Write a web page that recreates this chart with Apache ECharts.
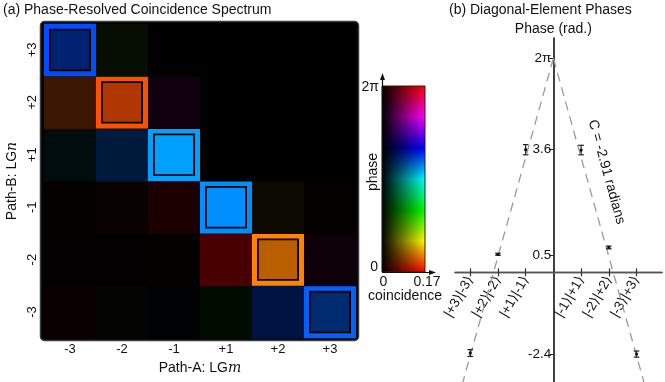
<!DOCTYPE html>
<html><head><meta charset="utf-8">
<script src="https://cdn.jsdelivr.net/npm/echarts@6/dist/echarts.min.js"></script>
<style>html,body{margin:0;padding:0;background:#fff}#c{width:665px;height:382px}</style>
</head><body><div id="c"></div>
<script>
// ---- data ----
const modesA = ['-3','-2','-1','+1','+2','+3'];   // Path-A: LGm (columns)
const modesB = ['-3','-2','-1','+1','+2','+3'];   // Path-B: LGn (rows, bottom to top)
// coincidence magnitude, rows = Path-B (-3..+3), columns = Path-A (-3..+3)
const coincidence = [
  [0.0067, 0.0027, 0.0030, 0.0080, 0.0450, 0.0750],
  [0.0010, 0.0012, 0.0020, 0.0480, 0.1230, 0.0093],
  [0.0027, 0.0053, 0.0173, 0.2000, 0.0080, 0.0020],
  [0.0093, 0.0390, 0.2000, 0.0000, 0.0000, 0.0000],
  [0.0390, 0.1170, 0.0107, 0.0000, 0.0000, 0.0000],
  [0.0750, 0.0093, 0.0000, 0.0000, 0.0000, 0.0000]
];
// phase (rad), same layout
const phase = [
  [0.00, 1.00, 4.00, 2.10, 3.90, 3.79],
  [0.00, 0.00, 0.00, 0.02, 0.54, 5.69],
  [0.00, 0.35, 0.00, 3.60, 0.80, 0.00],
  [3.32, 3.72, 3.53, 0.00, 0.00, 0.00],
  [0.39, 0.33, 5.24, 0.00, 0.00, 0.00],
  [3.87, 1.75, 0.00, 0.00, 0.00, 0.00]
];
const coincidenceMax = 0.17;
const ketLabels = ['|+3⟩|-3⟩','|+2⟩|-2⟩','|+1⟩|-1⟩','|-1⟩|+1⟩','|-2⟩|+2⟩','|-3⟩|+3⟩'];
const ketPos = [-3, -2, -1, 1, 2, 3];
const diagPhase = [-2.37, 0.53, 3.60, 3.59, 0.73, -2.40];
const diagErr = [0.10, 0.03, 0.15, 0.14, 0.04, 0.09];
const phaseTicks = [2 * Math.PI, 3.6, 0.5, -2.4];
const fitLeft = [[0, 6.283], [-3.4, -3.611]];
const fitRight = [[0, 6.283], [3.4, -3.611]];

// ---- helpers ----
function hsv(ph, v) {
  const TWO = 2 * Math.PI;
  let h = (((ph % TWO) + TWO) % TWO) / TWO * 6;
  const i = Math.floor(h) % 6, f = h - Math.floor(h), q = 1 - f;
  let r, g, b;
  switch (i) {
    case 0: r = 1; g = f; b = 0; break;
    case 1: r = q; g = 1; b = 0; break;
    case 2: r = 0; g = 1; b = f; break;
    case 3: r = 0; g = q; b = 1; break;
    case 4: r = f; g = 0; b = 1; break;
    default: r = 1; g = 0; b = q;
  }
  return 'rgb(' + Math.round(r * v * 255) + ',' + Math.round(g * v * 255) + ',' + Math.round(b * v * 255) + ')';
}

const heatData = [];
for (let r = 0; r < modesB.length; r++) {
  for (let c = 0; c < modesA.length; c++) {
    heatData.push([c, r, coincidence[r][c], phase[r][c], (Number(modesA[c]) === -Number(modesB[r])) ? 1 : 0]);
  }
}
const errData = ketPos.map((x, i) => [x, diagPhase[i], diagErr[i]]);

// panel (b) extents: axes cross at (0,0)
const bX = { min: -3.55, max: 3.92 }, bY = { min: -3.22, max: 6.88 };
const bGrid = { left: 455, top: 38, width: 207, height: 344 };
const xAxisOffset = -bGrid.height * (0 - bY.min) / (bY.max - bY.min);
const yAxisOffset = -bGrid.width * (0 - bX.min) / (bX.max - bX.min);

const FONT = 'Liberation Sans, Arial, DejaVu Sans, sans-serif';
const chart = echarts.init(document.getElementById('c'), null, { renderer: 'canvas' });

const option = {
  animation: false,
  backgroundColor: '#fff',
  textStyle: { fontFamily: FONT, color: '#111' },
  grid: [
    { left: 44, top: 23.7, width: 312, height: 314.6, outerBoundsMode: 'none', containLabel: false },
    Object.assign({ outerBoundsMode: 'none', containLabel: false }, bGrid)
  ],
  xAxis: [
    {
      gridIndex: 0, type: 'category', data: modesA,
      axisLine: { show: false }, axisTick: { show: false }, splitLine: { show: false },
      axisLabel: { fontSize: 13, color: '#111', margin: 5, fontFamily: FONT },
      name: 'Path-A: LG{i|m}', nameLocation: 'middle', nameGap: 18,
      nameTextStyle: { fontSize: 14, color: '#111', fontFamily: FONT,
        rich: { i: { fontFamily: 'DejaVu Serif, serif', fontStyle: 'italic', fontSize: 14, color: '#111' } } }
    },
    {
      gridIndex: 1, type: 'value', min: bX.min, max: bX.max, position: 'bottom', offset: xAxisOffset,
      axisLine: { onZero: false, lineStyle: { color: '#555', width: 1.4 } },
      axisTick: { customValues: ketPos, length: 4, lineStyle: { color: '#333', width: 1.2 } },
      axisLabel: { customValues: ketPos, rotate: 60, margin: 5, fontSize: 13.5, color: '#111', fontFamily: FONT,
        formatter: v => ketLabels[ketPos.indexOf(v)] },
      splitLine: { show: false }
    },
    {
      gridIndex: 1, type: 'value', min: bX.min, max: bX.max, position: 'bottom', offset: xAxisOffset,
      axisLine: { onZero: false, lineStyle: { color: '#555', width: 1.4 } },
      axisTick: { customValues: ketPos, inside: true, length: 4, lineStyle: { color: '#333', width: 1.2 } },
      axisLabel: { show: false }, splitLine: { show: false }
    }
  ],
  yAxis: [
    {
      gridIndex: 0, type: 'category', data: modesB,
      axisLine: { show: false }, axisTick: { show: false }, splitLine: { show: false },
      axisLabel: { rotate: 90, fontSize: 13, color: '#111', margin: 5, fontFamily: FONT },
      name: 'Path-B: LG{i|n}', nameLocation: 'middle', nameGap: 25,
      nameTextStyle: { fontSize: 14, color: '#111', fontFamily: FONT,
        rich: { i: { fontFamily: 'DejaVu Serif, serif', fontStyle: 'italic', fontSize: 14, color: '#111' } } }
    },
    {
      gridIndex: 1, type: 'value', min: bY.min, max: bY.max, position: 'left', offset: yAxisOffset,
      axisLine: { onZero: false, lineStyle: { color: '#000', width: 1.5 } },
      axisTick: { customValues: phaseTicks, length: 4, lineStyle: { color: '#222', width: 1 } },
      axisLabel: { customValues: phaseTicks, margin: 2, fontSize: 13.5, color: '#111', fontFamily: FONT,
        formatter: v => Math.abs(v - 2 * Math.PI) < 1e-6 ? '2π' : String(v) },
      splitLine: { show: false },
      name: 'Phase (rad.)', nameLocation: 'end', nameGap: 2,
      nameTextStyle: { fontSize: 14, color: '#111', fontFamily: FONT }
    }
  ],
  series: [
    {
      type: 'custom', xAxisIndex: 0, yAxisIndex: 0, z: 3, data: heatData,
      renderItem: function (params, api) {
        const c = api.coord([api.value(0), api.value(1)]);
        const s = api.size([1, 1]);
        const x0 = c[0] - s[0] / 2, y0 = c[1] - s[1] / 2;
        const mag = api.value(2), ph = api.value(3), diag = api.value(4);
        const fill = hsv(ph, Math.min(1, mag / coincidenceMax));
        if (!diag) {
          return { type: 'rect', shape: { x: x0, y: y0, width: s[0] + 0.5, height: s[1] + 0.5 }, style: { fill: fill } };
        }
        const b = 5, k = 1.8;
        return {
          type: 'group', children: [
            { type: 'rect', shape: { x: x0, y: y0, width: s[0], height: s[1] }, style: { fill: hsv(ph, 1) } },
            { type: 'rect', shape: { x: x0 + b, y: y0 + b, width: s[0] - 2 * b, height: s[1] - 2 * b }, style: { fill: '#000' } },
            { type: 'rect', shape: { x: x0 + b + k, y: y0 + b + k, width: s[0] - 2 * (b + k), height: s[1] - 2 * (b + k) }, style: { fill: fill } }
          ]
        };
      }
    },
    {
      type: 'line', xAxisIndex: 1, yAxisIndex: 1, data: fitLeft, symbol: 'none', z: 2,
      lineStyle: { color: '#9a9a9a', width: 1.3, type: [9, 6] }
    },
    {
      type: 'line', xAxisIndex: 1, yAxisIndex: 1, data: fitRight, symbol: 'none', z: 2,
      lineStyle: { color: '#9a9a9a', width: 1.3, type: [9, 6] }
    },
    {
      type: 'custom', xAxisIndex: 1, yAxisIndex: 1, z: 4, data: errData,
      renderItem: function (params, api) {
        const x = api.value(0), y = api.value(1), e = api.value(2);
        const p = api.coord([x, y]);
        const top = api.coord([x, y + e]), bot = api.coord([x, y - e]);
        const w = 2.8;
        const st = { stroke: '#222', lineWidth: 1.2 };
        return {
          type: 'group', children: [
            { type: 'line', shape: { x1: p[0], y1: top[1], x2: p[0], y2: bot[1] }, style: st },
            { type: 'line', shape: { x1: p[0] - w, y1: top[1], x2: p[0] + w, y2: top[1] }, style: st },
            { type: 'line', shape: { x1: p[0] - w, y1: bot[1], x2: p[0] + w, y2: bot[1] }, style: st },
            { type: 'circle', shape: { cx: p[0], cy: p[1], r: 1.6 }, style: { fill: '#111' } }
          ]
        };
      }
    }
  ],
  graphic: [
    { type: 'rect', z: -10, shape: { x: 40.5, y: 21.5, width: 318, height: 319, r: 4 },
      style: { fill: '#000', stroke: '#3c3c3c', lineWidth: 1.5 } },
    { type: 'text', x: 3, y: 10, style: { text: '(a) Phase-Resolved Coincidence Spectrum', font: '14px ' + FONT, fill: '#111', verticalAlign: 'middle' } },
    { type: 'text', x: 449, y: 10, style: { text: '(b) Diagonal-Element Phases', font: '14px ' + FONT, fill: '#111', verticalAlign: 'middle' } },
    // colorbar (hue = phase, brightness = coincidence)
    { type: 'rect', shape: { x: 382, y: 86, width: 43, height: 186 },
      style: { fill: new echarts.graphic.LinearGradient(0, 1, 0, 0, [
        { offset: 0, color: '#ff0000' }, { offset: 1 / 6, color: '#ffff00' }, { offset: 2 / 6, color: '#00ff00' },
        { offset: 3 / 6, color: '#00ffff' }, { offset: 4 / 6, color: '#0000ff' }, { offset: 5 / 6, color: '#ff00ff' },
        { offset: 1, color: '#ff0000' }]) } },
    { type: 'rect', shape: { x: 382, y: 86, width: 43, height: 186 },
      style: { fill: new echarts.graphic.LinearGradient(0, 0, 1, 0, [
        { offset: 0, color: 'rgba(0,0,0,1)' }, { offset: 1, color: 'rgba(0,0,0,0)' }]), stroke: '#222', lineWidth: 1 } },
    { type: 'line', shape: { x1: 382.5, y1: 272.5, x2: 382.5, y2: 78 }, style: { stroke: '#111', lineWidth: 1.2 } },
    { type: 'polygon', shape: { points: [[382.5, 73], [380, 80], [385, 80]] }, style: { fill: '#111' } },
    { type: 'line', shape: { x1: 382, y1: 272.5, x2: 431, y2: 272.5 }, style: { stroke: '#111', lineWidth: 1.2 } },
    { type: 'polygon', shape: { points: [[436, 272.5], [429, 270], [429, 275]] }, style: { fill: '#111' } },
    { type: 'text', x: 379, y: 87, style: { text: '2π', font: '14px ' + FONT, fill: '#111', align: 'right', verticalAlign: 'middle' } },
    { type: 'text', x: 378, y: 267, style: { text: '0', font: '14px ' + FONT, fill: '#111', align: 'right', verticalAlign: 'middle' } },
    { type: 'text', x: 373, y: 172, rotation: Math.PI / 2, style: { text: 'phase', font: '14px ' + FONT, fill: '#111', align: 'center', verticalAlign: 'middle' } },
    { type: 'text', x: 383.5, y: 282, style: { text: '0', font: '14px ' + FONT, fill: '#111', align: 'center', verticalAlign: 'middle' } },
    { type: 'text', x: 427, y: 282, style: { text: '0.17', font: '14px ' + FONT, fill: '#111', align: 'center', verticalAlign: 'middle' } },
    { type: 'text', x: 405, y: 296, style: { text: 'coincidence', font: '14px ' + FONT, fill: '#111', align: 'center', verticalAlign: 'middle' } },
    // slope annotation
    { type: 'text', x: 606.5, y: 172, rotation: -1.302, style: { text: 'C = -2.91 radians', font: '14px ' + FONT, fill: '#111', align: 'center', verticalAlign: 'middle' } }
  ]
};
chart.setOption(option);
</script>
</body></html>
